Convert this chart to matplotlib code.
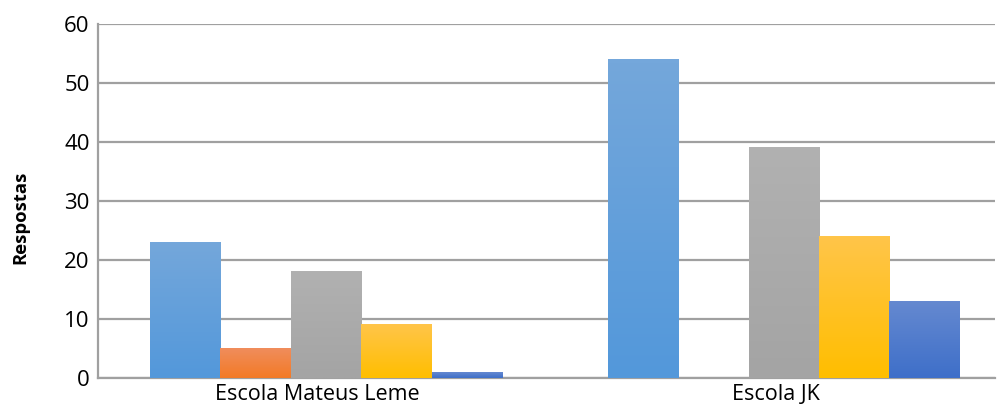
import numpy as np
import matplotlib
matplotlib.use("Agg")
import matplotlib.pyplot as plt
from matplotlib.colors import LinearSegmentedColormap

# data
categories = ["Escola Mateus Leme", "Escola JK"]
serie_1 = [23, 54]
serie_2 = [5, 0]
serie_3 = [18, 39]
serie_4 = [9, 24]
serie_5 = [1, 13]
series = [serie_1, serie_2, serie_3, serie_4, serie_5]

# gradient (top, bottom) per series, Excel-style
gradients = [
    ("#74a7db", "#5398da"),
    ("#f08d5c", "#f37a26"),
    ("#b1b1b1", "#a4a4a4"),
    ("#ffc549", "#ffbe00"),
    ("#6589d0", "#3e6fc9"),
]

plt.rcParams["font.family"] = ["Open Sans", "DejaVu Sans"]

fig = plt.figure(figsize=(10, 4.12), dpi=100)
ax = fig.add_axes([0.098, 0.0825, 0.897, 0.859])

n = len(series)
width = 0.1537
x = np.arange(len(categories))
for k, (vals, (top, bot)) in enumerate(zip(series, gradients)):
    cmap = LinearSegmentedColormap.from_list(f"g{k}", [bot, top])
    offs = x + (k - (n - 1) / 2) * width
    for xc, v in zip(offs, vals):
        if v <= 0:
            continue
        grad = np.linspace(1, 0, 64).reshape(-1, 1)
        ax.imshow(grad, extent=[xc - width / 2, xc + width / 2, 0, v],
                  aspect="auto", cmap=cmap, vmin=0, vmax=1, zorder=3,
                  interpolation="bilinear")

ax.set_xlim(-0.498, 1.461)
ax.set_ylim(0, 60)
ax.set_yticks(range(0, 61, 10))
ax.yaxis.grid(True, color="#a0a0a0", linewidth=1.6, zorder=0)
ax.set_axisbelow(True)

ax.set_xticks(x - 0.018)
ax.set_xticklabels(categories)
ax.tick_params(axis="y", length=0, labelsize=16, pad=6)
ax.tick_params(axis="x", length=0, labelsize=15.5, pad=4)

for s in ["top", "right"]:
    ax.spines[s].set_visible(False)
ax.spines["left"].set_color("#a0a0a0")
ax.spines["bottom"].set_color("#a0a0a0")
ax.spines["left"].set_linewidth(1.6)
ax.spines["bottom"].set_linewidth(1.6)

fig.text(0.02, 0.473, "Respostas", rotation=90, fontsize=13.3,
         fontweight="bold", ha="center", va="center")

fig.savefig("out.png", dpi=100)
